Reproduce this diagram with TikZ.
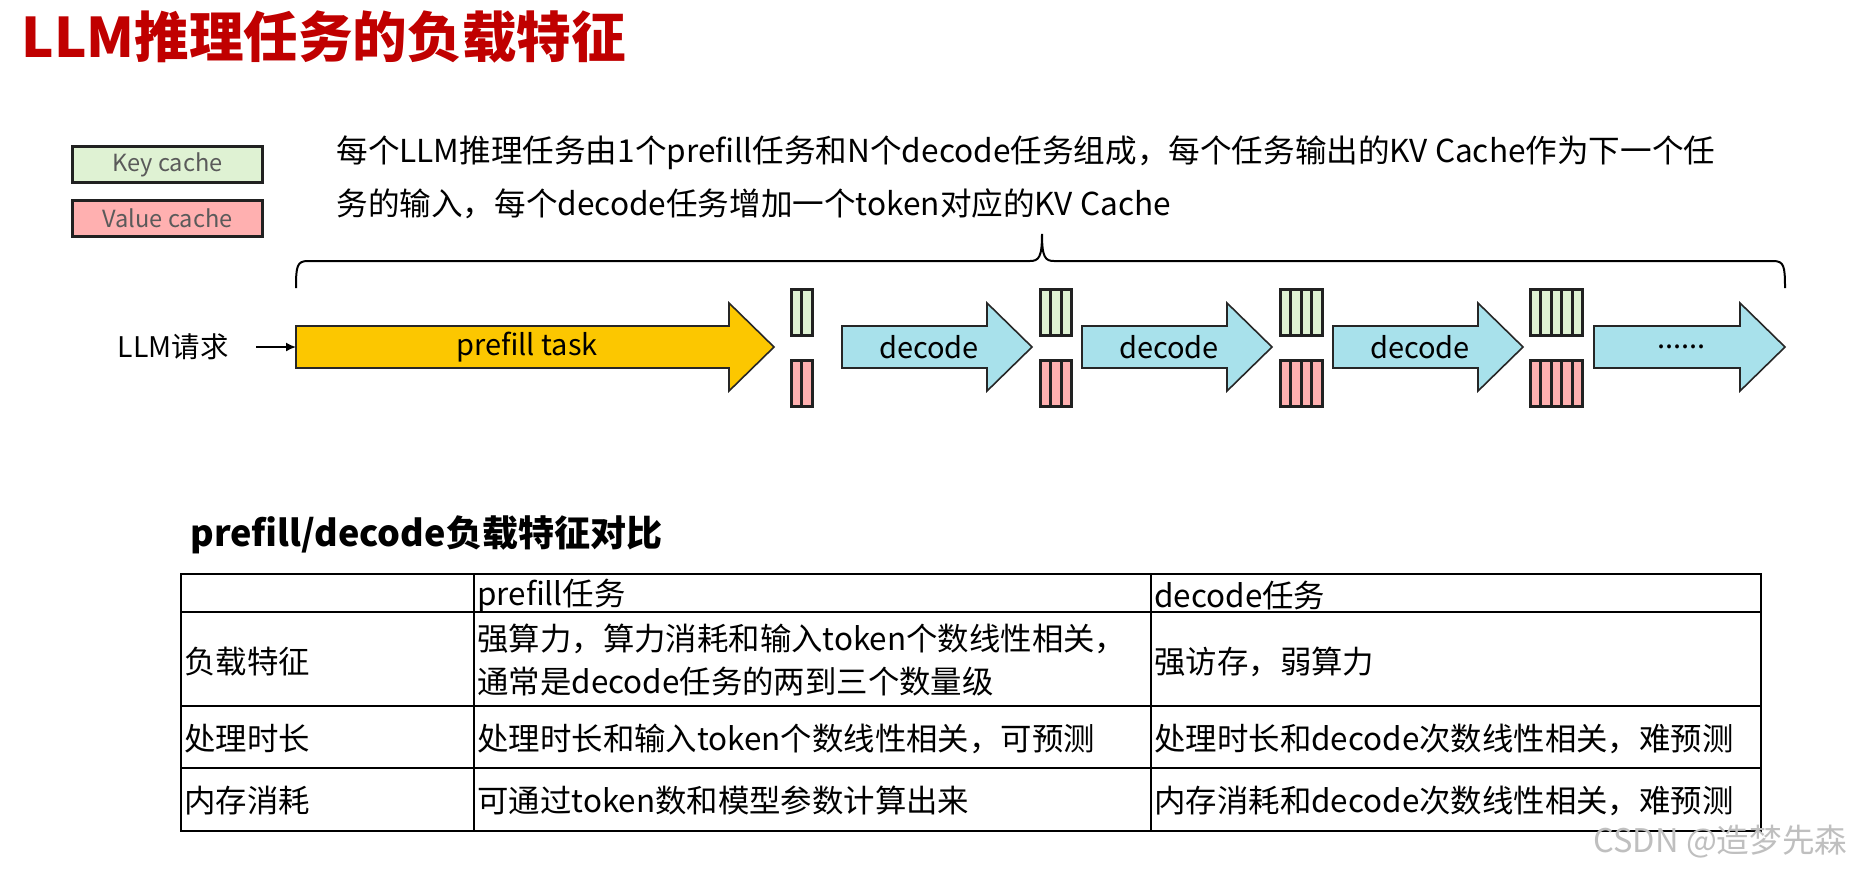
\documentclass[tikz,border=0pt]{standalone}
\usepackage{fontspec}
\newfontfamily\cjk{Noto Sans CJK SC}
\usetikzlibrary{arrows.meta}

\newcommand{\taskarrow}[5]{%
  \draw[taskline, fill=#4] (#2,326) -- ({#3-45},326) -- ({#3-45},303) -- (#3,347)
    -- ({#3-45},391) -- ({#3-45},368) -- (#2,368) -- cycle;
  \coordinate (#1-tail) at (#2,347);
  \node[tasktext] (#1) at ({(#2+#3)/2-8},347) {#5};}
\newcommand{\kvblock}[2]{%
  \foreach \k in {1,...,#2} {
    \draw[cacheline, fill=keycol] ({#1+(\k-1)*10.5},289) rectangle ++(10.5,46);
    \draw[cacheline, fill=valcol] ({#1+(\k-1)*10.5},360) rectangle ++(10.5,46);
  }}

\begin{document}
\begin{tikzpicture}[x=0.5pt, y=-0.5pt,
    txt/.style={font=\cjk\fontsize{15.7}{19}\selectfont, inner sep=0pt, anchor=west},
    tasktext/.style={font=\cjk\fontsize{14.5}{17}\selectfont, inner sep=0pt},
    taskline/.style={draw=black!85, line width=0.8pt},
    cacheline/.style={draw=black!87, line width=1.5pt},
    legend/.style={draw=black!87, line width=1.5pt, minimum width=95pt, minimum height=18pt,
      inner sep=0pt, text=legendtext, font=\cjk\fontsize{11.8}{15}\selectfont},
    grid/.style={line width=0.8pt}]
    \definecolor{titlered}{RGB}{192,0,0}
    \definecolor{keycol}{RGB}{223,242,211}
    \definecolor{valcol}{RGB}{255,176,176}
    \definecolor{prefillcol}{RGB}{252,199,0}
    \definecolor{decodecol}{RGB}{168,225,235}
    \definecolor{legendtext}{RGB}{90,90,90}

    \useasboundingbox[fill=white] (0,0) rectangle (1864,869);

    \node[anchor=west, inner sep=0pt, text=titlered, font=\cjk\bfseries\fontsize{27.3}{32}\selectfont]
        (title) at (21,37) {LLM推理任务的负载特征};

    \node[legend, fill=keycol] (keyleg) at (167.5,164.5) {Key cache};
    \node[legend, fill=valcol] (valleg) at (167.5,218.5) {Value cache};

    \node[txt, anchor=base west, align=left, font=\cjk\fontsize{15.8}{26.5}\selectfont] (desc) at (336,215)
        {每个LLM推理任务由1个prefill任务和N个decode任务组成，每个任务输出的KV Cache作为下一个任\\
         务的输入，每个decode任务增加一个token对应的KV Cache};
    \coordinate (brace-tip) at (1042,234);
    \draw[line width=1pt] (296,288) .. controls (296,266) and (297,261) .. (308,261) -- (1030,261)
        .. controls (1039,261) and (1042,257) .. (brace-tip)
        .. controls (1042,257) and (1045,261) .. (1054,261) -- (1773,261)
        .. controls (1784,261) and (1785,266) .. (1785,288);

    \taskarrow{prefill}{296}{774}{prefillcol}{prefill task}
    \taskarrow{dec1}{842}{1032}{decodecol}{decode}
    \taskarrow{dec2}{1082}{1272}{decodecol}{decode}
    \taskarrow{dec3}{1333}{1523}{decodecol}{decode}
    \taskarrow{dec4}{1594}{1785}{decodecol}{......}
    \kvblock{791}{2}
    \kvblock{1040}{3}
    \kvblock{1280}{4}
    \kvblock{1530}{5}

    \node[txt, anchor=east, inner xsep=13.5pt, font=\cjk\fontsize{14.2}{17}\selectfont] (req) at (256,347) {LLM请求};
    \draw[line width=0.8pt, -{Latex[length=5pt,width=4.5pt]}] (req) -- (prefill-tail);

    \node[txt, font=\cjk\bfseries\fontsize{18}{22}\selectfont] (cmp) at (190,535) {prefill/decode负载特征对比};
    \draw[grid] (181,574) rectangle (1761,831);
    \draw[grid] (474,574) -- (474,831) (1151,574) -- (1151,831);
    \draw[grid] (181,612) -- (1761,612) (181,706) -- (1761,706) (181,768) -- (1761,768);

    \node[txt] (h2) at (477,596) {prefill任务};
    \node[txt] (h3) at (1154,596) {decode任务};
    \node[txt] (r1c1) at (184,662) {负载特征};
    \node[txt, align=left, font=\cjk\fontsize{15.7}{21.5}\selectfont] (r1c2) at (477,660)
        {强算力，算力消耗和输入token个数线性相关，\\通常是decode任务的两到三个数量级};
    \node[txt] (r1c3) at (1154,662) {强访存，弱算力};
    \node[txt] (r2c1) at (184,739) {处理时长};
    \node[txt] (r2c2) at (477,739) {处理时长和输入token个数线性相关，可预测};
    \node[txt] (r2c3) at (1154,739) {处理时长和decode次数线性相关，难预测};
    \node[txt] (r3c1) at (184,801) {内存消耗};
    \node[txt] (r3c2) at (477,801) {可通过token数和模型参数计算出来};
    \node[txt] (r3c3) at (1154,801) {内存消耗和decode次数线性相关，难预测};

    \node[txt, text=black!25, font=\cjk\fontsize{16.3}{19}\selectfont] (mark) at (1593,842) {CSDN @造梦先森};
\end{tikzpicture}
\end{document}
